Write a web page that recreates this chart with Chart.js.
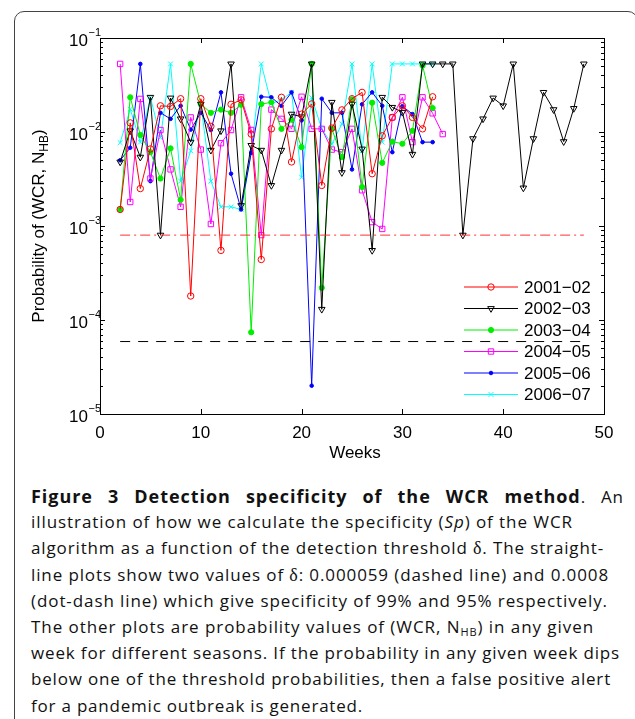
<!DOCTYPE html>
<html><head><meta charset="utf-8">
<script src="https://cdn.jsdelivr.net/npm/chart.js@4.4.0/dist/chart.umd.min.js"></script>
<style>
html,body{margin:0;padding:0;background:#fff;width:635px;height:719px;overflow:hidden;}
#frame{position:absolute;left:14px;top:11px;width:622px;height:740px;border:1px solid #444;border-radius:10px;}
#c{position:absolute;left:0;top:0;}
.ln{position:absolute;left:31px;white-space:nowrap;font-family:"Open Sans",sans-serif;font-size:17px;line-height:26px;color:#111;}
.ln b{font-size:18px;}
.d{font-family:"Liberation Serif","DejaVu Serif",serif;font-size:18px;}
sub{font-size:11px;vertical-align:-3px;line-height:0;}
</style></head><body>
<div id="frame"></div>
<canvas id="c" width="635" height="470"></canvas>
<div id="cap">
<div class="ln" data-w="593" data-j="1"><b>Figure 3 Detection specificity of the WCR method</b>. An</div>
<div class="ln" data-w="542">illustration of how we calculate the specificity (<i>Sp</i>) of the WCR</div>
<div class="ln" data-w="573">algorithm as a function of the detection threshold <span class="d">δ</span>. The straight-</div>
<div class="ln" data-w="578">line plots show two values of <span class="d">δ</span>: 0.000059 (dashed line) and 0.0008</div>
<div class="ln" data-w="577">(dot-dash line) which give specificity of 99% and 95% respectively.</div>
<div class="ln" data-w="563">The other plots are probability values of (WCR, N<sub>HB</sub>) in any given</div>
<div class="ln" data-w="589">week for different seasons. If the probability in any given week dips</div>
<div class="ln" data-w="580">below one of the threshold probabilities, then a false positive alert</div>
<div class="ln" data-w="332">for a pandemic outbreak is generated.</div>
</div>
<script>
// ---- data ----
const weeks = [2,3,4,5,6,7,8,9,10,11,12,13,14,15,16,17,18,19,20,21,22,23,24,25,26,27,28,29,30,31,32,33,34,35,36,37,38,39,40,41,42,43,44,45,46,47,48];
const seasons = ["2001\u221202","2002\u221203","2003\u221204","2004\u221205","2005\u221206","2006\u221207"];
const s2001 = [0.0015,0.0125,0.0025,0.0066,0.019,0.0187,0.0226,0.00018,0.0226,0.0115,0.00055,0.0197,0.022,0.0095,0.00044,0.0108,0.0234,0.0048,0.0155,0.0199,0.0027,0.011,0.0172,0.0226,0.0264,0.0036,0.0091,0.0143,0.019,0.0143,0.0108,0.0237];
const s2002 = [0.0048,0.0103,0.0054,0.0234,0.0008,0.023,0.0138,0.0078,0.0198,0.0064,0.0103,0.053,0.00165,0.0072,0.0064,0.0027,0.0064,0.0155,0.0145,0.053,0.00013,0.0207,0.0037,0.0198,0.0066,0.00055,0.0234,0.0183,0.0162,0.0058,0.053,0.053,0.053,0.053,0.0008,0.0085,0.0138,0.023,0.019,0.053,0.00254,0.0085,0.0264,0.0173,0.0079,0.0178,0.053];
const s2003 = [0.0015,0.0234,0.0093,0.0061,0.0032,0.0067,0.0019,0.053,0.0198,0.016,0.0173,0.016,0.0195,0.000074,0.0198,0.0207,0.0108,0.0135,0.0069,0.053,0.00022,0.0108,0.0054,0.0222,0.0026,0.0205,0.0047,0.0079,0.0075,0.0103,0.051,0.018];
const s2004 = [0.053,0.0018,0.0225,0.0032,0.0105,0.004,0.0016,0.0143,0.0065,0.00105,0.0076,0.0105,0.0234,0.0105,0.0008,0.0173,0.0138,0.0108,0.0237,0.0108,0.0108,0.0065,0.0061,0.0108,0.0024,0.0011,0.00093,0.0143,0.0234,0.0078,0.0234,0.0158,0.0095];
const s2005 = [0.005,0.0068,0.053,0.003,0.016,0.0138,0.019,0.0106,0.016,0.0105,0.0264,0.0036,0.0015,0.006,0.0237,0.0234,0.019,0.0264,0.0133,0.00002,0.0226,0.016,0.016,0.004,0.0197,0.0264,0.019,0.0061,0.0188,0.0155,0.0078,0.0078];
const s2006 = [0.0077,0.0175,0.0078,0.0234,0.0087,0.053,0.003,0.0063,0.0198,0.003,0.0016,0.0016,0.0015,0.006,0.053,0.02,0.022,0.0264,0.0033,0.0232,0.0108,0.0074,0.0122,0.053,0.0063,0.053,0.0078,0.053,0.053,0.053,0.053,0.053];
const thresholdWeeks = [2,48];
const delta95 = 0.0008;
const delta99 = 0.000059;
const xTicks = [0,10,20,30,40,50];
const yDecades = [-1,-2,-3,-4,-5];

const pts = (vals) => vals.map((v,i)=>({x:weeks[i],y:v}));
const styles = [
  {c:'#ff0000', ps:'circle', r:3.2, fill:false, rot:0},
  {c:'#000000', ps:'triangle', r:3.8, fill:false, rot:180},
  {c:'#00ee00', ps:'circle', r:2.6, fill:true, rot:0},
  {c:'#ff00ff', ps:'rect', r:3.8, fill:false, rot:0},
  {c:'#0000ff', ps:'circle', r:1.8, fill:true, rot:0},
  {c:'#00ffff', ps:'crossRot', r:3.4, fill:false, rot:0}
];
const series = [s2001,s2002,s2003,s2004,s2005,s2006];
const datasets = [
  {data: thresholdWeeks.map(w=>({x:w,y:delta95})), borderColor:'#ff3030', borderWidth:1, borderDash:[10,4,2,4], pointRadius:0},
  {data: thresholdWeeks.map(w=>({x:w,y:delta99})), borderColor:'#000', borderWidth:1, borderDash:[10,8], pointRadius:0}
];
series.forEach((s,k)=>{
  const st = styles[k];
  datasets.push({label:seasons[k], data:pts(s), borderColor:st.c, borderWidth:1,
    pointStyle:st.ps, pointRadius:st.r, pointRotation:st.rot, pointBorderColor:st.c,
    pointBackgroundColor: st.fill? st.c : 'rgba(0,0,0,0)', pointBorderWidth:1, tension:0});
});

const FONT = '"Liberation Sans", Arial, sans-serif';
const decor = {
  id:'decor',
  afterDraw(chart){
    const ctx = chart.ctx, a = chart.chartArea, xs = chart.scales.x, ys = chart.scales.y;
    ctx.save();
    ctx.strokeStyle='#000'; ctx.lineWidth=1;
    ctx.strokeRect(Math.round(a.left)+0.5, Math.round(a.top)+0.5, Math.round(a.right-a.left), Math.round(a.bottom-a.top));
    ctx.beginPath();
    xTicks.forEach(t=>{const px=Math.round(xs.getPixelForValue(t))+0.5;
      ctx.moveTo(px,a.bottom); ctx.lineTo(px,a.bottom-5);
      ctx.moveTo(px,a.top); ctx.lineTo(px,a.top+5);});
    yDecades.forEach(d=>{
      const py=Math.round(ys.getPixelForValue(Math.pow(10,d)))+0.5;
      ctx.moveTo(a.left,py); ctx.lineTo(a.left+5,py);
      ctx.moveTo(a.right,py); ctx.lineTo(a.right-5,py);
      if(d>-5){ for(let m=2;m<=9;m++){ const v=m*Math.pow(10,d-1); const p=Math.round(ys.getPixelForValue(v))+0.5;
        ctx.moveTo(a.left,p); ctx.lineTo(a.left+3,p); ctx.moveTo(a.right,p); ctx.lineTo(a.right-3,p);} }
    });
    ctx.stroke();
    ctx.fillStyle='#000';
    ctx.font='17px '+FONT; ctx.textAlign='center'; ctx.textBaseline='alphabetic';
    xTicks.forEach(t=>{ctx.fillText(String(t), xs.getPixelForValue(t), 438);});
    ctx.fillText('Weeks', (a.left+a.right)/2+3, 458);
    yDecades.forEach(d=>{
      const py=ys.getPixelForValue(Math.pow(10,d));
      ctx.textAlign='right'; ctx.font='17px '+FONT;
      ctx.fillText('10', 88, py+8);
      ctx.textAlign='left'; ctx.font='11px '+FONT;
      ctx.fillText(String(d).replace('-','\u2212'), 88.5, py-2);
    });
    ctx.save();
    ctx.translate(44, (a.top+a.bottom)/2); ctx.rotate(-Math.PI/2);
    ctx.textAlign='left';
    const t1='Probability of (WCR, N', t2='HB', t3=')';
    ctx.font='17px '+FONT; const w1=ctx.measureText(t1).width, w3=ctx.measureText(t3).width;
    ctx.font='12px '+FONT; const w2=ctx.measureText(t2).width;
    let x0=-(w1+w2+w3)/2;
    ctx.font='17px '+FONT; ctx.fillText(t1,x0,0);
    ctx.font='12px '+FONT; ctx.fillText(t2,x0+w1,4);
    ctx.font='17px '+FONT; ctx.fillText(t3,x0+w1+w2,0);
    ctx.restore();
    // legend
    const rows=[287,308.5,330,351.5,373,394.5];
    series.forEach((s,k)=>{
      const st=styles[k], y=rows[k];
      ctx.strokeStyle=st.c; ctx.lineWidth=1; ctx.setLineDash([]);
      ctx.beginPath(); ctx.moveTo(464,y); ctx.lineTo(518,y); ctx.stroke();
      ctx.fillStyle = st.fill ? st.c : 'rgba(0,0,0,0)';
      Chart.helpers.drawPoint(ctx,{pointStyle:st.ps,radius:st.r,rotation:st.rot,borderWidth:1}, 491, y);
      ctx.fillStyle='#000'; ctx.font='17px '+FONT; ctx.textAlign='left'; ctx.textBaseline='middle';
      ctx.fillText(seasons[k], 524, y+1);
      ctx.textBaseline='alphabetic';
    });
    ctx.restore();
  }
};

new Chart(document.getElementById('c'), {
  type:'line',
  data:{datasets},
  options:{
    responsive:false, animation:false, devicePixelRatio:1,
    layout:{padding:{left:0,top:38,right:31,bottom:0}},
    plugins:{legend:{display:false}, tooltip:{enabled:false}},
    scales:{
      x:{type:'linear', min:0, max:50, grid:{display:false}, border:{display:false}, ticks:{display:false},
         afterFit(s){s.height=56;}},
      y:{type:'logarithmic', min:1e-5, max:1e-1, grid:{display:false}, border:{display:false}, ticks:{display:false},
         afterFit(s){s.width=100;}}
    }
  },
  plugins:[decor]
});

// caption layout
const lines=document.querySelectorAll('.ln');
lines.forEach((el,i)=>{
  el.style.top=(483+i*26.2)+'px';
  const target=+el.dataset.w;
  const nat=el.getBoundingClientRect().width;
  const txt=el.textContent;
  if(el.dataset.j){
    const extra=target-nat, sp=(txt.match(/ /g)||[]).length;
    el.style.letterSpacing=(extra*0.4/txt.length)+'px';
    el.style.wordSpacing=(extra*0.6/sp)+'px';
  } else {
    el.style.letterSpacing=((target-nat)/(txt.length))+'px';
  }
});
</script>
</body></html>
